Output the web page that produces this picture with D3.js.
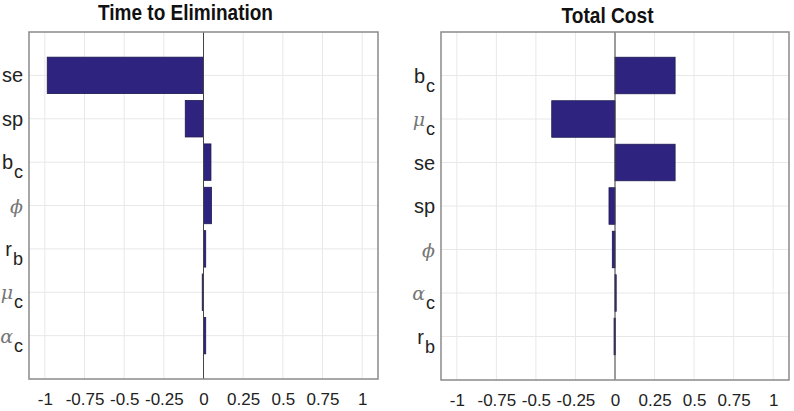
<!DOCTYPE html>
<html>
<head>
<meta charset="utf-8">
<script src="https://cdn.jsdelivr.net/npm/d3@7"></script>
<style>
  body { margin: 0; background: #fff; }
  svg { display: block; }
  .tick text { font-family: "Liberation Sans", Arial, sans-serif; fill: #222; }
</style>
</head>
<body>
<svg id="chart" width="794" height="411"></svg>
<script>
// values
const elimLabels = ["se", "sp", "b_c", "phi", "r_b", "mu_c", "alpha_c"];
const elimValues = [-0.985, -0.115, 0.047, 0.05, 0.014, -0.008, 0.014];

const costLabels = ["b_c", "mu_c", "se", "sp", "phi", "alpha_c", "r_b"];
const costValues = [0.38, -0.40, 0.38, -0.038, -0.017, 0.003, -0.006];

const xTicks = [-1, -0.75, -0.5, -0.25, 0, 0.25, 0.5, 0.75, 1];
const xTickLabels = ["-1", "-0.75", "-0.5", "-0.25", "0", "0.25", "0.5", "0.75", "1"];

const greek = {phi: "\u03D5", mu: "\u03BC", alpha: "\u03B1"};

const svg = d3.select("#chart");

// split "b_c" into base + subscript, swap in greek letters
function labelParts(name) {
    let [base, sub] = name.split("_");
    let isGreek = greek[base] !== undefined;
    return {base: isGreek ? greek[base] : base, sub: sub || "", isGreek: isGreek};
}

function drawPanel(cfg) {
    let g = svg.append("g");
    let n = cfg.labels.length;

    let x = d3.scaleLinear().domain([-1.1, 1.1]).range([cfg.left, cfg.right]);
    let y = d3.scaleLinear().domain([0, n + 1]).range([cfg.top, cfg.bottom]);
    let step = y(1) - y(0);

    // grid lines
    g.append("g").selectAll("line.vgrid").data(xTicks).enter().append("line")
        .attr("x1", d => x(d)).attr("x2", d => x(d))
        .attr("y1", cfg.top).attr("y2", cfg.bottom)
        .attr("stroke", "#e8e8e8").attr("stroke-width", 1);

    g.append("g").selectAll("line.hgrid").data(d3.range(1, n + 1)).enter().append("line")
        .attr("x1", cfg.left).attr("x2", cfg.right)
        .attr("y1", d => y(d)).attr("y2", d => y(d))
        .attr("stroke", "#e8e8e8").attr("stroke-width", 1);

    // bars
    g.append("g").selectAll("rect").data(cfg.values).enter().append("rect")
        .attr("x", d => x(Math.min(0, d)))
        .attr("width", d => Math.max(1.2, Math.abs(x(d) - x(0))))
        .attr("y", (d, i) => y(i + 1) - step * 0.42)
        .attr("height", step * 0.84)
        .attr("fill", "#2e2480")
        .attr("stroke", "#1c1850")
        .attr("stroke-width", 0.8);

    // zero line
    g.append("line")
        .attr("x1", x(0)).attr("x2", x(0))
        .attr("y1", cfg.top).attr("y2", cfg.bottom)
        .attr("stroke", "#444").attr("stroke-width", 1);

    // box
    g.append("rect")
        .attr("x", cfg.left).attr("y", cfg.top)
        .attr("width", cfg.right - cfg.left).attr("height", cfg.bottom - cfg.top)
        .attr("fill", "none").attr("stroke", "#8a8a8a").attr("stroke-width", 1.5);

    // x axis labels
    let xAxis = d3.axisBottom(x).tickValues(xTicks)
        .tickFormat((d, i) => xTickLabels[i])
        .tickSize(0).tickPadding(14);
    let ax = g.append("g").attr("transform", "translate(0," + cfg.bottom + ")").call(xAxis);
    ax.select(".domain").remove();
    ax.selectAll("text").style("font-size", "17px");

    // y labels
    let yl = g.append("g").selectAll("text").data(cfg.labels).enter().append("text")
        .attr("x", cfg.left - 6)
        .attr("y", (d, i) => y(i + 1) + 7)
        .attr("text-anchor", "end")
        .style("font-family", "'Liberation Sans', Arial, sans-serif")
        .style("font-size", "20px")
        .attr("fill", "#222");
    yl.each(function(d) {
        let p = labelParts(d);
        let t = d3.select(this);
        t.append("tspan").text(p.base)
            .style("font-family", p.isGreek ? "'DejaVu Serif', 'Liberation Serif', serif" : null)
            .style("font-style", p.isGreek ? "italic" : null)
            .style("font-size", p.isGreek ? "19px" : null)
            .attr("fill", p.isGreek ? "#777" : null);
        if (p.sub) {
            t.append("tspan").text(p.sub).attr("dy", 9).attr("dx", 1).style("font-size", "18px");
        }
    });

    // title
    svg.append("text")
        .attr("x", cfg.titleX).attr("y", cfg.titleY)
        .attr("text-anchor", "middle")
        .attr("textLength", cfg.titleW).attr("lengthAdjust", "spacingAndGlyphs")
        .style("font-family", "'Liberation Sans', Arial, sans-serif")
        .style("font-weight", "bold").style("font-size", "22px")
        .attr("fill", "#111")
        .text(cfg.title);
}

drawPanel({labels: elimLabels, values: elimValues, title: "Time to Elimination",
    left: 29, right: 378, top: 32, bottom: 379, titleX: 185.5, titleY: 20, titleW: 175});
drawPanel({labels: costLabels, values: costValues, title: "Total Cost",
    left: 441, right: 789, top: 32, bottom: 380, titleX: 607.5, titleY: 22.5, titleW: 92});
</script>
</body>
</html>
